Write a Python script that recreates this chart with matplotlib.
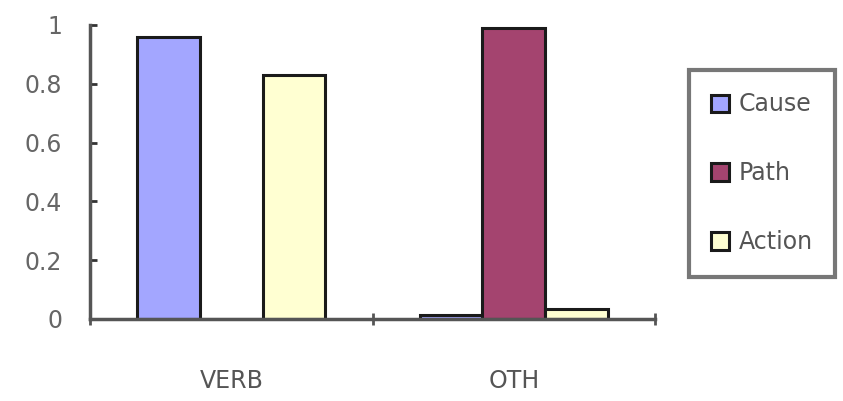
import matplotlib
matplotlib.use("Agg")
import matplotlib.pyplot as plt
import numpy as np

categories = ["VERB", "OTH"]
series_names = ["Cause", "Path", "Action"]
cause = [0.96, 0.015]
path = [0.0, 0.99]
action = [0.83, 0.035]
y_ticks = [0, 0.2, 0.4, 0.6, 0.8, 1]
y_tick_labels = ["0", "0.2", "0.4", "0.6", "0.8", "1"]

colors = ["#A3A6FF", "#A4446F", "#FFFFD2"]

fig = plt.figure(figsize=(8.43, 4.01), dpi=100)
ax = fig.add_axes([90 / 843, 1 - 319 / 401, (655 - 90) / 843, (319 - 25) / 401])

x = np.arange(len(categories))
w = 1 / 4.5
for i, (vals, name) in enumerate(zip([cause, path, action], series_names)):
    ax.bar(x + (i - 1) * w, vals, width=w, color=colors[i], edgecolor="#1a1a1a",
           linewidth=2.2, label=name, zorder=3)

ax.set_xlim(-0.5, len(categories) - 0.5)
ax.set_ylim(0, 1)

ax.set_yticks(y_ticks)
ax.set_yticklabels(y_tick_labels)
ax.set_xticks(x)
ax.set_xticklabels(categories)
ax.set_xticks(np.arange(len(categories) + 1) - 0.5, minor=True)

ax.tick_params(axis="y", direction="in", length=5, width=2, color="#333333",
               labelsize=17, labelcolor="#666666", pad=20)
ax.tick_params(axis="x", which="major", length=0, labelsize=17,
               labelcolor="#555555", pad=36)
ax.tick_params(axis="x", which="minor", direction="inout", length=8, width=2,
               color="#555555")

for side in ["top", "right"]:
    ax.spines[side].set_visible(False)
for side in ["left", "bottom"]:
    ax.spines[side].set_color("#555555")
    ax.spines[side].set_linewidth(2.5)
    ax.spines[side].set_zorder(4)

leg = fig.legend(loc="upper left", bbox_to_anchor=(689 / 843, 1 - 70 / 401),
                 fontsize=17, frameon=True, fancybox=False, handlelength=0.75,
                 handleheight=0.75, handletextpad=0.4, labelspacing=1.9,
                 borderpad=0.95, borderaxespad=0)
frame = leg.get_frame()
frame.set_edgecolor("#555555")
frame.set_linewidth(3)
for t in leg.get_texts():
    t.set_color("#555555")

fig.savefig("out.png", dpi=100)
